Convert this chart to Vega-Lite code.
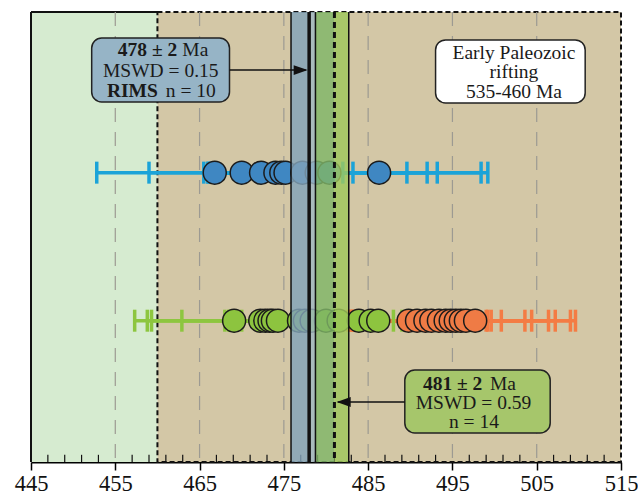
{
  "$schema": "https://vega.github.io/schema/vega-lite/v6.json",
  "width": 590,
  "height": 450,
  "autosize": "none",
  "padding": {"left": 31, "top": 12, "right": 17, "bottom": 33},
  "background": "white",
  "config": {"view": {"stroke": null}, "font": "Liberation Serif"},
  "resolve": {"scale": {"color": "independent"}},
  "datasets": {
    "zones": [{"zone": "pre", "a": 445, "b": 460, "lo": 0, "hi": 100}, {"zone": "rift", "a": 460, "b": 515, "lo": 0, "hi": 100}],
    "frame": [{"a": 445, "b": 445, "lo": 0, "hi": 100}, {"a": 445, "b": 460, "lo": 100, "hi": 100}],
    "grid": [{"v": 455}, {"v": 465}, {"v": 475}, {"v": 485}, {"v": 495}, {"v": 505}],
    "minor": [{"v": 447}, {"v": 449}, {"v": 451}, {"v": 453}, {"v": 457}, {"v": 459}, {"v": 461}, {"v": 463}, {"v": 467}, {"v": 469}, {"v": 471}, {"v": 473}, {"v": 477}, {"v": 479}, {"v": 481}, {"v": 483}, {"v": 487}, {"v": 489}, {"v": 491}, {"v": 493}, {"v": 497}, {"v": 499}, {"v": 501}, {"v": 503}, {"v": 507}, {"v": 509}, {"v": 511}, {"v": 513}],
    "pts": [
      {"g": "A", "age": 466.8, "lo": 452.8, "hi": 480.8, "row": 64.3},
      {"g": "A", "age": 470.0, "lo": 459.0, "hi": 481.0, "row": 64.3},
      {"g": "A", "age": 472.3, "lo": 466.3, "hi": 478.3, "row": 64.3},
      {"g": "A", "age": 474.0, "lo": 466.0, "hi": 482.0, "row": 64.3},
      {"g": "A", "age": 474.7, "lo": 467.0, "hi": 483.2, "row": 64.3},
      {"g": "A", "age": 475.2, "lo": 466.0, "hi": 489.6, "row": 64.3},
      {"g": "A", "age": 477.2, "lo": 465.5, "hi": 492.0, "row": 64.3},
      {"g": "A", "age": 478.9, "lo": 466.5, "hi": 493.2, "row": 64.3},
      {"g": "A", "age": 480.4, "lo": 467.0, "hi": 498.4, "row": 64.3},
      {"g": "A", "age": 486.3, "lo": 478.0, "hi": 499.2, "row": 64.3},
      {"g": "B", "age": 469.1, "lo": 457.3, "hi": 480.9, "row": 31.4},
      {"g": "B", "age": 472.2, "lo": 458.8, "hi": 485.6, "row": 31.4},
      {"g": "B", "age": 472.8, "lo": 459.3, "hi": 486.3, "row": 31.4},
      {"g": "B", "age": 473.3, "lo": 462.9, "hi": 483.7, "row": 31.4},
      {"g": "B", "age": 473.7, "lo": 468.5, "hi": 478.9, "row": 31.4},
      {"g": "B", "age": 474.3, "lo": 468.0, "hi": 480.6, "row": 31.4},
      {"g": "B", "age": 476.8, "lo": 468.5, "hi": 485.1, "row": 31.4},
      {"g": "B", "age": 477.5, "lo": 469.0, "hi": 486.0, "row": 31.4},
      {"g": "B", "age": 478.3, "lo": 470.0, "hi": 486.6, "row": 31.4},
      {"g": "B", "age": 480.0, "lo": 472.0, "hi": 488.0, "row": 31.4},
      {"g": "B", "age": 481.5, "lo": 474.0, "hi": 489.0, "row": 31.4},
      {"g": "B", "age": 483.9, "lo": 476.0, "hi": 491.8, "row": 31.4},
      {"g": "B", "age": 485.3, "lo": 477.5, "hi": 493.1, "row": 31.4},
      {"g": "B", "age": 486.2, "lo": 478.0, "hi": 494.4, "row": 31.4},
      {"g": "C", "age": 489.8, "lo": 482.6, "hi": 497.0, "row": 31.4},
      {"g": "C", "age": 490.8, "lo": 482.0, "hi": 499.6, "row": 31.4},
      {"g": "C", "age": 491.8, "lo": 482.8, "hi": 500.8, "row": 31.4},
      {"g": "C", "age": 492.5, "lo": 486.0, "hi": 499.0, "row": 31.4},
      {"g": "C", "age": 493.4, "lo": 483.2, "hi": 503.6, "row": 31.4},
      {"g": "C", "age": 494.2, "lo": 484.0, "hi": 504.4, "row": 31.4},
      {"g": "C", "age": 494.8, "lo": 483.2, "hi": 506.4, "row": 31.4},
      {"g": "C", "age": 495.4, "lo": 483.6, "hi": 507.2, "row": 31.4},
      {"g": "C", "age": 496.0, "lo": 483.0, "hi": 509.0, "row": 31.4},
      {"g": "C", "age": 496.6, "lo": 483.6, "hi": 509.6, "row": 31.4},
      {"g": "C", "age": 497.7, "lo": 490.0, "hi": 499.2, "row": 31.4}
    ],
    "bands": [{"k": "b1", "a": 475.85, "b": 478.0}, {"k": "b2", "a": 478.0, "b": 478.75}, {"k": "g1", "a": 478.75, "b": 481.0}, {"k": "g2", "a": 481.0, "b": 482.7}],
    "means": [{"v": 475.85, "s": "thin"}, {"v": 478.0, "s": "thick"}, {"v": 478.75, "s": "thin"}, {"v": 481.0, "s": "dash"}, {"v": 482.7, "s": "thin"}],
    "boxes": [{"k": "b1", "a": 452.2, "b": 468.55, "lo": 80.0, "hi": 94.2}, {"k": "b2", "a": 489.35, "b": 506.6, "lo": 6.45, "hi": 20.45}, {"k": "b3", "a": 493.0, "b": 510.75, "lo": 79.8, "hi": 93.8}],
    "arrows": [{"a": 468.55, "b": 477.6, "y": 87.1}, {"a": 481.4, "b": 489.35, "y": 13.33}],
    "heads": [{"x": 477.0, "y": 87.1, "d": "r"}, {"x": 482.1, "y": 13.33, "d": "l"}],
    "texts": [
      {"x": 462.35, "y": 91.56, "t": "478 ± 2", "k": "br"},
      {"x": 462.95, "y": 91.56, "t": "Ma", "k": "nl"},
      {"x": 460.4, "y": 86.9, "t": "MSWD = 0.15", "k": "c"},
      {"x": 460.05, "y": 82.44, "t": "RIMS", "k": "br"},
      {"x": 461.0, "y": 82.44, "t": "n = 10", "k": "nl"},
      {"x": 498.55, "y": 17.33, "t": "481 ± 2", "k": "br"},
      {"x": 499.45, "y": 17.33, "t": "Ma", "k": "nl"},
      {"x": 497.5, "y": 13.1, "t": "MSWD = 0.59", "k": "c"},
      {"x": 497.55, "y": 8.8, "t": "n = 14", "k": "c"},
      {"x": 502.3, "y": 90.9, "t": "Early Paleozoic", "k": "c"},
      {"x": 502.3, "y": 86.67, "t": "rifting", "k": "c"},
      {"x": 502.3, "y": 82.2, "t": "535-460 Ma", "k": "c"}
    ]
  },
  "layer": [
    {
      "data": {"name": "zones"},
      "transform": [{"filter": "datum.zone === 'pre'"}],
      "mark": {"type": "rect", "fill": "#d6ebd0"},
      "encoding": {
        "x": {"field": "a", "type": "quantitative", "title": null, "scale": {"domain": [445, 515], "nice": false, "zero": false},
          "axis": {"values": [445, 455, 465, 475, 485, 495, 505, 515], "grid": false, "domainColor": "#000", "domainWidth": 2, "tickColor": "#000", "tickWidth": 1.5, "tickSize": 8, "labelFont": "Liberation Serif", "labelFontSize": 22.5, "labelColor": "#111", "labelPadding": 2, "labelFlush": false, "title": null}},
        "x2": {"field": "b"},
        "y": {"field": "lo", "type": "quantitative", "scale": {"domain": [0, 100], "nice": false}, "axis": null},
        "y2": {"field": "hi"}
      }
    },
    {
      "data": {"name": "zones"},
      "transform": [{"filter": "datum.zone === 'rift'"}],
      "mark": {"type": "rect", "fill": "#d3c7a6", "stroke": "#111", "strokeWidth": 2, "strokeDash": [5, 3]},
      "encoding": {
        "x": {"field": "a", "type": "quantitative", "title": null},
        "x2": {"field": "b"},
        "y": {"field": "lo", "type": "quantitative", "axis": null},
        "y2": {"field": "hi"}
      }
    },
    {
      "data": {"name": "frame"},
      "mark": {"type": "rule", "stroke": "#111", "strokeWidth": 2},
      "encoding": {
        "x": {"field": "a", "type": "quantitative", "title": null},
        "x2": {"field": "b"},
        "y": {"field": "lo", "type": "quantitative", "axis": null},
        "y2": {"field": "hi"}
      }
    },
    {
      "data": {"name": "grid"},
      "mark": {"type": "rule", "stroke": "#9c9a92", "strokeWidth": 1.2, "strokeDash": [14, 10]},
      "encoding": {"x": {"field": "v", "type": "quantitative", "title": null}}
    },
    {
      "data": {"name": "minor"},
      "mark": {"type": "rule", "stroke": "#111", "strokeWidth": 1.2},
      "encoding": {
        "x": {"field": "v", "type": "quantitative", "title": null},
        "y": {"datum": 0, "type": "quantitative", "axis": null},
        "y2": {"datum": 1.6}
      }
    },
    {
      "data": {"name": "pts"},
      "mark": {"type": "rule", "strokeWidth": 3.5},
      "encoding": {
        "x": {"field": "lo", "type": "quantitative", "title": null},
        "x2": {"field": "hi"},
        "y": {"field": "row", "type": "quantitative", "axis": null},
        "color": {"field": "g", "type": "nominal", "legend": null, "scale": {"domain": ["A", "B", "C"], "range": ["#1ba3d8", "#8dc63f", "#f47c44"]}}
      }
    },
    {
      "data": {"name": "pts"},
      "mark": {"type": "tick", "orient": "vertical", "size": 22, "thickness": 3.5, "opacity": 1},
      "encoding": {
        "x": {"field": "lo", "type": "quantitative", "title": null},
        "y": {"field": "row", "type": "quantitative", "axis": null},
        "color": {"field": "g", "type": "nominal", "legend": null, "scale": {"domain": ["A", "B", "C"], "range": ["#1ba3d8", "#8dc63f", "#f47c44"]}}
      }
    },
    {
      "data": {"name": "pts"},
      "mark": {"type": "tick", "orient": "vertical", "size": 22, "thickness": 3.5, "opacity": 1},
      "encoding": {
        "x": {"field": "hi", "type": "quantitative", "title": null},
        "y": {"field": "row", "type": "quantitative", "axis": null},
        "color": {"field": "g", "type": "nominal", "legend": null, "scale": {"domain": ["A", "B", "C"], "range": ["#1ba3d8", "#8dc63f", "#f47c44"]}}
      }
    },
    {
      "data": {"name": "pts"},
      "mark": {"type": "point", "shape": "circle", "filled": true, "size": 530, "stroke": "#1b1b1b", "strokeWidth": 1.5, "opacity": 1},
      "encoding": {
        "x": {"field": "age", "type": "quantitative", "title": null},
        "y": {"field": "row", "type": "quantitative", "axis": null},
        "fill": {"field": "g", "type": "nominal", "legend": null, "scale": {"domain": ["A", "B", "C"], "range": ["#3f87c2", "#8dc43f", "#ef7b45"]}}
      }
    },
    {
      "data": {"name": "bands"},
      "mark": {"type": "rect", "opacity": 0.82},
      "encoding": {
        "x": {"field": "a", "type": "quantitative", "title": null},
        "x2": {"field": "b"},
        "color": {"field": "k", "type": "nominal", "legend": null, "scale": {"domain": ["b1", "b2", "g1", "g2"], "range": ["#83a4b9", "#a0b7c3", "#80b668", "#9fc85c"]}}
      }
    },
    {
      "data": {"name": "means"},
      "transform": [{"filter": "datum.s === 'thin'"}],
      "mark": {"type": "rule", "stroke": "#111", "strokeWidth": 1.5},
      "encoding": {"x": {"field": "v", "type": "quantitative", "title": null}}
    },
    {
      "data": {"name": "means"},
      "transform": [{"filter": "datum.s === 'thick'"}],
      "mark": {"type": "rule", "stroke": "#111", "strokeWidth": 3.5},
      "encoding": {"x": {"field": "v", "type": "quantitative", "title": null}}
    },
    {
      "data": {"name": "means"},
      "transform": [{"filter": "datum.s === 'dash'"}],
      "mark": {"type": "rule", "stroke": "#111", "strokeWidth": 3, "strokeDash": [6, 4]},
      "encoding": {"x": {"field": "v", "type": "quantitative", "title": null}}
    },
    {
      "data": {"name": "boxes"},
      "mark": {"type": "rect", "cornerRadius": 10, "stroke": "#222", "strokeWidth": 1.5, "opacity": 1},
      "encoding": {
        "x": {"field": "a", "type": "quantitative", "title": null},
        "x2": {"field": "b"},
        "y": {"field": "lo", "type": "quantitative", "axis": null},
        "y2": {"field": "hi"},
        "color": {"field": "k", "type": "nominal", "legend": null, "scale": {"domain": ["b1", "b2", "b3"], "range": ["#96b4c6", "#a6c66b", "#ffffff"]}}
      }
    },
    {
      "data": {"name": "arrows"},
      "mark": {"type": "rule", "stroke": "#111", "strokeWidth": 1.5},
      "encoding": {
        "x": {"field": "a", "type": "quantitative", "title": null},
        "x2": {"field": "b"},
        "y": {"field": "y", "type": "quantitative", "axis": null}
      }
    },
    {
      "data": {"name": "heads"},
      "transform": [{"filter": "datum.d === 'r'"}],
      "mark": {"type": "point", "shape": "M-1,-0.7L1,0L-1,0.7Z", "filled": true, "fill": "#111", "size": 196, "opacity": 1},
      "encoding": {
        "x": {"field": "x", "type": "quantitative", "title": null},
        "y": {"field": "y", "type": "quantitative", "axis": null}
      }
    },
    {
      "data": {"name": "heads"},
      "transform": [{"filter": "datum.d === 'l'"}],
      "mark": {"type": "point", "shape": "M1,-0.7L-1,0L1,0.7Z", "filled": true, "fill": "#111", "size": 196, "opacity": 1},
      "encoding": {
        "x": {"field": "x", "type": "quantitative", "title": null},
        "y": {"field": "y", "type": "quantitative", "axis": null}
      }
    },
    {
      "data": {"name": "texts"},
      "transform": [{"filter": "datum.k === 'c'"}],
      "mark": {"type": "text", "font": "Liberation Serif", "fontSize": 19.5, "align": "center", "baseline": "middle", "color": "#1a1a1a"},
      "encoding": {
        "x": {"field": "x", "type": "quantitative", "title": null},
        "y": {"field": "y", "type": "quantitative", "axis": null},
        "text": {"field": "t"}
      }
    },
    {
      "data": {"name": "texts"},
      "transform": [{"filter": "datum.k === 'br'"}],
      "mark": {"type": "text", "font": "Liberation Serif", "fontSize": 19.5, "fontWeight": "bold", "align": "right", "baseline": "middle", "color": "#1a1a1a"},
      "encoding": {
        "x": {"field": "x", "type": "quantitative", "title": null},
        "y": {"field": "y", "type": "quantitative", "axis": null},
        "text": {"field": "t"}
      }
    },
    {
      "data": {"name": "texts"},
      "transform": [{"filter": "datum.k === 'nl'"}],
      "mark": {"type": "text", "font": "Liberation Serif", "fontSize": 19.5, "align": "left", "baseline": "middle", "color": "#1a1a1a"},
      "encoding": {
        "x": {"field": "x", "type": "quantitative", "title": null},
        "y": {"field": "y", "type": "quantitative", "axis": null},
        "text": {"field": "t"}
      }
    }
  ]
}
